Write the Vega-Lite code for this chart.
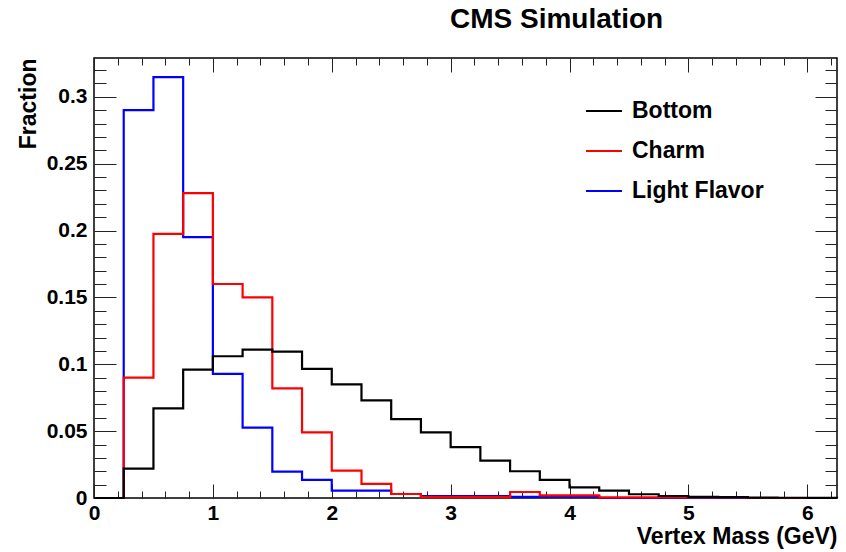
{
  "$schema": "https://vega.github.io/schema/vega-lite/v6.json",
  "width": 743,
  "height": 440,
  "autosize": {"type": "none"},
  "padding": {"left": 94, "top": 58, "right": 9, "bottom": 54},
  "background": "white",
  "title": {"text": "CMS Simulation", "anchor": "start", "frame": "group", "dx": 356, "offset": 24, "fontSize": 28, "font": "Liberation Sans", "fontWeight": "bold", "color": "black"},
  "data": {"values": [
    {"s": "Light Flavor", "x": 0, "y": 0},
    {"s": "Light Flavor", "x": 0.25, "y": 0.290},
    {"s": "Light Flavor", "x": 0.5, "y": 0.3147},
    {"s": "Light Flavor", "x": 0.75, "y": 0.195},
    {"s": "Light Flavor", "x": 1.0, "y": 0.0928},
    {"s": "Light Flavor", "x": 1.25, "y": 0.0526},
    {"s": "Light Flavor", "x": 1.5, "y": 0.0197},
    {"s": "Light Flavor", "x": 1.75, "y": 0.0135},
    {"s": "Light Flavor", "x": 2.0, "y": 0.0055},
    {"s": "Light Flavor", "x": 2.25, "y": 0.0055},
    {"s": "Light Flavor", "x": 2.5, "y": 0.003},
    {"s": "Light Flavor", "x": 2.75, "y": 0.0015},
    {"s": "Light Flavor", "x": 3.0, "y": 0.0015},
    {"s": "Light Flavor", "x": 3.25, "y": 0.0015},
    {"s": "Light Flavor", "x": 3.5, "y": 0.0008},
    {"s": "Light Flavor", "x": 3.75, "y": 0.001},
    {"s": "Light Flavor", "x": 4.0, "y": 0.001},
    {"s": "Light Flavor", "x": 4.25, "y": 0},
    {"s": "Light Flavor", "x": 6.25, "y": 0},
    {"s": "Charm", "x": 0, "y": 0},
    {"s": "Charm", "x": 0.25, "y": 0.090},
    {"s": "Charm", "x": 0.5, "y": 0.1975},
    {"s": "Charm", "x": 0.75, "y": 0.228},
    {"s": "Charm", "x": 1.0, "y": 0.160},
    {"s": "Charm", "x": 1.25, "y": 0.150},
    {"s": "Charm", "x": 1.5, "y": 0.082},
    {"s": "Charm", "x": 1.75, "y": 0.049},
    {"s": "Charm", "x": 2.0, "y": 0.0205},
    {"s": "Charm", "x": 2.25, "y": 0.0105},
    {"s": "Charm", "x": 2.5, "y": 0.003},
    {"s": "Charm", "x": 2.75, "y": 0.0006},
    {"s": "Charm", "x": 3.0, "y": 0.0006},
    {"s": "Charm", "x": 3.25, "y": 0.0006},
    {"s": "Charm", "x": 3.5, "y": 0.0045},
    {"s": "Charm", "x": 3.75, "y": 0.002},
    {"s": "Charm", "x": 4.0, "y": 0.002},
    {"s": "Charm", "x": 4.25, "y": 0.0004},
    {"s": "Charm", "x": 4.5, "y": 0.0004},
    {"s": "Charm", "x": 4.75, "y": 0.0004},
    {"s": "Charm", "x": 5.0, "y": 0.0004},
    {"s": "Charm", "x": 5.25, "y": 0.0004},
    {"s": "Charm", "x": 5.5, "y": 0},
    {"s": "Charm", "x": 6.25, "y": 0},
    {"s": "Bottom", "x": 0, "y": 0},
    {"s": "Bottom", "x": 0.25, "y": 0.022},
    {"s": "Bottom", "x": 0.5, "y": 0.067},
    {"s": "Bottom", "x": 0.75, "y": 0.096},
    {"s": "Bottom", "x": 1.0, "y": 0.106},
    {"s": "Bottom", "x": 1.25, "y": 0.111},
    {"s": "Bottom", "x": 1.5, "y": 0.1095},
    {"s": "Bottom", "x": 1.75, "y": 0.0965},
    {"s": "Bottom", "x": 2.0, "y": 0.085},
    {"s": "Bottom", "x": 2.25, "y": 0.073},
    {"s": "Bottom", "x": 2.5, "y": 0.059},
    {"s": "Bottom", "x": 2.75, "y": 0.049},
    {"s": "Bottom", "x": 3.0, "y": 0.038},
    {"s": "Bottom", "x": 3.25, "y": 0.028},
    {"s": "Bottom", "x": 3.5, "y": 0.020},
    {"s": "Bottom", "x": 3.75, "y": 0.0135},
    {"s": "Bottom", "x": 4.0, "y": 0.008},
    {"s": "Bottom", "x": 4.25, "y": 0.0055},
    {"s": "Bottom", "x": 4.5, "y": 0.0028},
    {"s": "Bottom", "x": 4.75, "y": 0.0015},
    {"s": "Bottom", "x": 5.0, "y": 0.0009},
    {"s": "Bottom", "x": 5.25, "y": 0.0006},
    {"s": "Bottom", "x": 5.5, "y": 0.0003},
    {"s": "Bottom", "x": 5.75, "y": 0.0002},
    {"s": "Bottom", "x": 6.0, "y": 0.0001},
    {"s": "Bottom", "x": 6.25, "y": 0}
  ]},
  "resolve": {"axis": {"x": "independent", "y": "independent"}},
  "layer": [
    {
      "mark": {"type": "line", "interpolate": "step-after", "strokeWidth": 2.2},
      "encoding": {
        "x": {"field": "x", "type": "quantitative", "scale": {"domain": [0, 6.25], "nice": false, "zero": false},
              "axis": {"orient": "bottom", "values": [0, 1, 2, 3, 4, 5, 6], "format": "d", "ticks": false, "labelPadding": 4, "labelFontSize": 21, "labelFlush": false, "labelOverlap": false, "title": "Vertex Mass (GeV)", "titleAnchor": "end", "titleFontSize": 23, "titlePadding": 2}},
        "y": {"field": "y", "type": "quantitative", "scale": {"domain": [0, 0.329], "nice": false},
              "axis": {"orient": "left", "values": [0, 0.05, 0.1, 0.15, 0.2, 0.25, 0.3], "format": "~g", "ticks": false, "labelPadding": 7, "labelFontSize": 21, "labelFlush": false, "labelOverlap": false, "title": "Fraction", "titleAnchor": "end", "titleFontSize": 23, "titlePadding": 6}},
        "color": {"field": "s", "type": "nominal",
                  "scale": {"domain": ["Bottom", "Charm", "Light Flavor"], "range": ["#000000", "#ff0000", "#0000ff"]},
                  "legend": {"orient": "none", "legendX": 491, "legendY": 34, "title": null, "symbolType": "stroke", "symbolSize": 1296, "symbolStrokeWidth": 2, "labelFontSize": 23, "labelFont": "Liberation Sans", "labelFontWeight": "bold", "labelColor": "black", "labelOffset": 9, "rowPadding": 9, "padding": 0}}
      }
    },
    {
      "mark": {"type": "point", "opacity": 0},
      "encoding": {
        "x": {"field": "x", "type": "quantitative", "scale": {"domain": [0, 6.25], "nice": false, "zero": false},
              "axis": {"orient": "bottom", "values": [0, 1, 2, 3, 4, 5, 6], "tickSize": -14, "labels": false, "title": null}},
        "y": {"field": "y", "type": "quantitative", "scale": {"domain": [0, 0.329], "nice": false},
              "axis": {"orient": "left", "values": [0, 0.05, 0.1, 0.15, 0.2, 0.25, 0.3], "tickSize": -22, "labels": false, "title": null}}
      }
    },
    {
      "mark": {"type": "point", "opacity": 0},
      "encoding": {
        "x": {"field": "x", "type": "quantitative", "scale": {"domain": [0, 6.25], "nice": false, "zero": false},
              "axis": {"orient": "bottom", "values": [0.2, 0.4, 0.6, 0.8, 1.2, 1.4, 1.6, 1.8, 2.2, 2.4, 2.6, 2.8, 3.2, 3.4, 3.6, 3.8, 4.2, 4.4, 4.6, 4.8, 5.2, 5.4, 5.6, 5.8, 6.2], "tickSize": -7, "labels": false, "title": null}},
        "y": {"field": "y", "type": "quantitative", "scale": {"domain": [0, 0.329], "nice": false},
              "axis": {"orient": "left", "values": [0.01, 0.02, 0.03, 0.04, 0.06, 0.07, 0.08, 0.09, 0.11, 0.12, 0.13, 0.14, 0.16, 0.17, 0.18, 0.19, 0.21, 0.22, 0.23, 0.24, 0.26, 0.27, 0.28, 0.29, 0.31, 0.32], "tickSize": -12, "labels": false, "title": null}}
      }
    },
    {
      "mark": {"type": "point", "opacity": 0},
      "encoding": {
        "x": {"field": "x", "type": "quantitative", "scale": {"domain": [0, 6.25], "nice": false, "zero": false},
              "axis": {"orient": "top", "values": [0, 1, 2, 3, 4, 5, 6], "tickSize": -14, "labels": false, "title": null}},
        "y": {"field": "y", "type": "quantitative", "scale": {"domain": [0, 0.329], "nice": false},
              "axis": {"orient": "right", "values": [0, 0.05, 0.1, 0.15, 0.2, 0.25, 0.3], "tickSize": -22, "labels": false, "title": null}}
      }
    },
    {
      "mark": {"type": "point", "opacity": 0},
      "encoding": {
        "x": {"field": "x", "type": "quantitative", "scale": {"domain": [0, 6.25], "nice": false, "zero": false},
              "axis": {"orient": "top", "values": [0.2, 0.4, 0.6, 0.8, 1.2, 1.4, 1.6, 1.8, 2.2, 2.4, 2.6, 2.8, 3.2, 3.4, 3.6, 3.8, 4.2, 4.4, 4.6, 4.8, 5.2, 5.4, 5.6, 5.8, 6.2], "tickSize": -7, "labels": false, "title": null}},
        "y": {"field": "y", "type": "quantitative", "scale": {"domain": [0, 0.329], "nice": false},
              "axis": {"orient": "right", "values": [0.01, 0.02, 0.03, 0.04, 0.06, 0.07, 0.08, 0.09, 0.11, 0.12, 0.13, 0.14, 0.16, 0.17, 0.18, 0.19, 0.21, 0.22, 0.23, 0.24, 0.26, 0.27, 0.28, 0.29, 0.31, 0.32], "tickSize": -12, "labels": false, "title": null}}
      }
    }
  ],
  "config": {
    "view": {"stroke": "black", "strokeWidth": 1.5},
    "axis": {"labelFont": "Liberation Sans", "labelFontWeight": "bold", "labelColor": "black", "titleFont": "Liberation Sans", "titleFontWeight": "bold", "titleColor": "black", "tickColor": "#222222", "tickWidth": 1, "grid": false, "domain": false}
  }
}
